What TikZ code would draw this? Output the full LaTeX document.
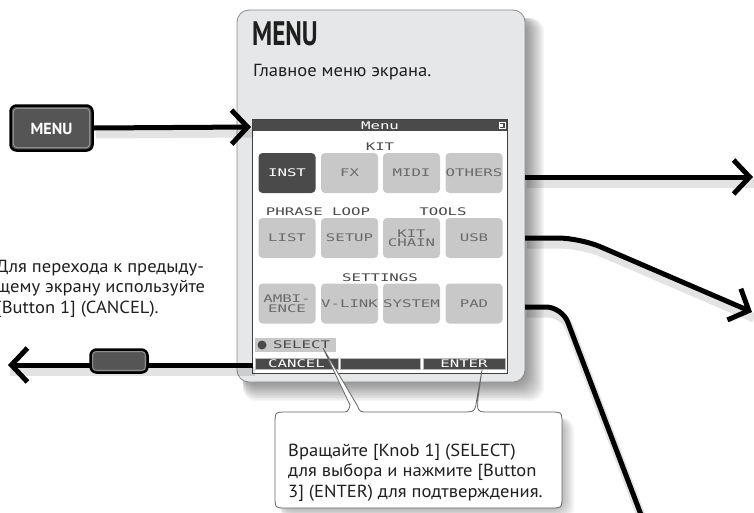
\documentclass[tikz,border=0pt]{standalone}
\usepackage{fontspec}
\setmainfont[FakeStretch=1.06]{PT Sans}
\newfontfamily\keyfont{PT Sans}
\newfontfamily\titlefont[FakeStretch=0.74]{PT Sans}
\newfontfamily\lcdfont[FakeStretch=1.5]{DejaVu Sans Mono}
\usetikzlibrary{arrows.meta}
\definecolor{panelgray}{HTML}{E6E7E8}
\definecolor{btngray}{HTML}{C8C8C8}
\definecolor{lcddark}{HTML}{4A4A4A}
\definecolor{lcdtext}{HTML}{6A6A6A}
\definecolor{keydark}{HTML}{555555}
\definecolor{edgegray}{HTML}{8A8A8A}
\begin{document}
\begin{tikzpicture}[x=1pt,y=-1pt,
  bigarrow/.style={line width=5pt,-{Straight Barb[length=16pt,width=34pt]}},
  arrowshadow/.style={line width=9pt,black,opacity=0.11,transform canvas={shift={(2,6)}}},
  panelbox/.style={draw=edgegray,line width=0.8pt,fill=panelgray,rounded corners=12pt,minimum width=288pt,minimum height=372pt,inner sep=0pt},
  lcdfnt/.style={font=\lcdfont\fontsize{10.5}{9.5}\selectfont},
  lcdbtn/.style={lcdfnt,fill=btngray,rounded corners=4pt,minimum width=57pt,minimum height=40pt,inner sep=0pt,text=lcdtext,align=center},
  lcdlabel/.style={lcdfnt,text=lcddark,inner sep=0pt},
  barseg/.style={lcdfnt,fill=lcddark,draw=gray!55,line width=0.6pt,text=white,inner sep=0pt,minimum height=11pt},
  keybox/.style={fill=keydark,draw=black,line width=2.5pt,rounded corners=6pt,inner sep=0pt},
  bodytext/.style={font=\fontsize{17.5}{20.5}\selectfont,align=left,inner sep=0pt,text=black!88}
]
\useasboundingbox (0,0) rectangle (754,512);
\fill[white] (0,0) rectangle (754,512);

% panel shadow
\foreach \i in {1,...,12}{
  \fill[black,opacity=0.04,rounded corners=14pt] (243,18) rectangle ({525+1.6*\i},{382+1.6*\i});
}
\node[panelbox] (panel) at (381,196) {};

% title + subtitle
\node[anchor=base west,inner sep=0pt,font=\titlefont\bfseries\fontsize{34}{34}\selectfont,text=black!88] (title) at (252,45) {MENU};
\node[anchor=base west,bodytext] (subtitle) at (253,76) {Главное меню экрана.};

% LCD screen
\node[draw=black!75,line width=0.8pt,fill=white,minimum width=255pt,minimum height=254pt,inner sep=0pt] (screen) at (379.5,246) {};
\node[fill=lcddark,minimum width=254pt,minimum height=11pt,inner sep=0pt,text=white,lcdfnt] (hdr) at (380,125.5) {Menu};
\node[draw=white,line width=0.7pt,fill=lcddark,minimum width=6pt,minimum height=6pt,inner sep=0pt] (hdricon) at (502.5,125.5) {};
\fill[white] (500,124) rectangle (503,127);

\node[lcdlabel] (kitlbl) at (380,147) {KIT};
\node[lcdlabel] (phrlbl) at (318,212) {PHRASE LOOP};
\node[lcdlabel] (toollbl) at (443,212) {TOOLS};
\node[lcdlabel] (setlbl) at (380,278) {SETTINGS};

\node[lcdbtn,fill=lcddark,text=white] (inst) at (287,173) {INST};
\node[lcdbtn] (fx) at (349.5,173) {FX};
\node[lcdbtn] (midi) at (411.5,173) {MIDI};
\node[lcdbtn] (others) at (474,173) {OTHERS};

\node[lcdbtn] (list) at (287,238) {LIST};
\node[lcdbtn] (setup) at (349.5,238) {SETUP};
\node[lcdbtn] (kitchain) at (411.5,238) {KIT\\CHAIN};
\node[lcdbtn] (usb) at (474,238) {USB};

\node[lcdbtn] (ambi) at (287,303.5) {AMBI-\\ENCE};
\node[lcdbtn] (vlink) at (349.5,303.5) {V-LINK};
\node[lcdbtn] (system) at (411.5,303.5) {SYSTEM};
\node[lcdbtn] (pad) at (474,303.5) {PAD};

\node[fill=btngray,minimum width=81pt,minimum height=14pt,inner sep=0pt] (selbox) at (295.5,345) {};
\node[circle,fill=lcddark,minimum size=9pt,inner sep=0pt] (knob) at (262,345) {};
\node[lcdlabel,anchor=west,text=lcddark] (seltxt) at (273,345) {SELECT};

\node[barseg,minimum width=83pt] (cancelseg) at (296.5,363.5) {CANCEL};
\node[barseg,minimum width=80pt] (midseg) at (380,363.5) {};
\node[barseg,minimum width=82pt] (enterseg) at (464,363.5) {ENTER};

% arrows
\coordinate (menutip) at (251,127);
\coordinate (cancelstart) at (253,365);
\coordinate (canceltip) at (8,365);
\coordinate (r1s) at (525,177);
\coordinate (r1t) at (753,177);
\coordinate (r2s) at (525,238);
\coordinate (r2c) at (580,238);
\coordinate (r2t) at (752,312);
\coordinate (r3s) at (525,307);
\coordinate (r3c) at (562,307);
\coordinate (r3e) at (643,520);

\node[keybox,minimum width=82pt,minimum height=45pt] (menukey) at (51.5,128) {};
\draw[arrowshadow] (menukey.east) -- (menutip);
\draw[bigarrow] (menukey.east) -- (menutip);
\draw[gray!65,line width=0.6pt,rounded corners=4pt] ([shift={(4,4)}]menukey.north west) rectangle ([shift={(-4,-4)}]menukey.south east);
\node[text=white,font=\keyfont\bfseries\fontsize{16}{16}\selectfont,inner sep=0pt] (menukeytxt) at (51.5,129) {MENU};

\draw[arrowshadow] (cancelstart) -- (canceltip);
\draw[bigarrow] (cancelstart) -- (canceltip);
\node[keybox,minimum width=57pt,minimum height=23pt] (cancelkey) at (119,361) {};
\draw[gray!65,line width=0.6pt,rounded corners=3pt] ([shift={(3.5,3.5)}]cancelkey.north west) rectangle ([shift={(-3.5,-3.5)}]cancelkey.south east);

\draw[arrowshadow] (r1s) -- (r1t);
\draw[bigarrow] (r1s) -- (r1t);
\draw[arrowshadow,rounded corners=22pt] (r2s) -- (r2c) -- (r2t);
\draw[bigarrow,rounded corners=22pt] (r2s) -- (r2c) -- (r2t);
\draw[arrowshadow,rounded corners=16pt] (r3s) -- (r3c) -- (r3e);
\draw[line width=5pt,rounded corners=16pt] (r3s) -- (r3c) -- (r3e);

% left text (cut at the left edge, as in the reference)
\node[anchor=base west,bodytext] (lefttxt) at (-4,313) {Для перехода к предыду-\\щему экрану используйте\\{[}Button 1] (CANCEL).};

% callout
\foreach \i in {1,...,8}{
  \fill[black,opacity=0.035,rounded corners=12pt] (280,418) rectangle ({562+1.5*\i},{508+1.5*\i});
}
\draw[fill=white,draw=black!60,line width=0.8pt]
  (275,496) -- (275,424) .. controls (275,412) .. (287,412)
  -- (341,412) .. controls (348,412) .. (350,405) -- (323,348)
  -- (357,405) .. controls (360,412) .. (368,412)
  -- (462,412) .. controls (475,412) .. (477,398) -- (482,370)
  -- (478,398) .. controls (477,412) .. (490,412)
  -- (550,412) .. controls (562,412) .. (562,424)
  -- (562,496) .. controls (562,508) .. (550,508)
  -- (287,508) .. controls (275,508) .. (275,496) -- cycle;
\node[anchor=base west,bodytext] (callouttxt) at (288,497) {Вращайте [Knob 1] (SELECT)\\для выбора и нажмите [Button\\3] (ENTER) для подтверждения.};
\end{tikzpicture}
\end{document}
